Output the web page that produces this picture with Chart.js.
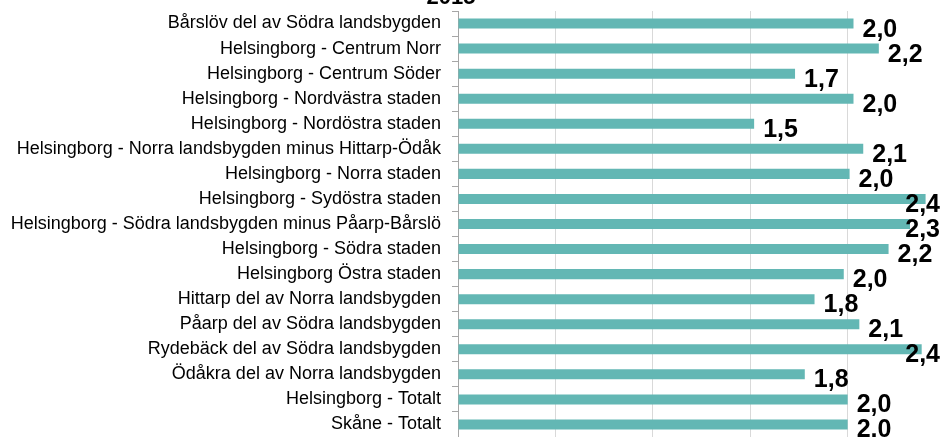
<!DOCTYPE html>
<html>
<head>
<meta charset="utf-8">
<script src="https://cdn.jsdelivr.net/npm/chart.js@4/dist/chart.umd.min.js"></script>
<style>
  body { margin: 0; background: #fff; overflow: hidden; }
</style>
</head>
<body>
<canvas id="chart" width="940" height="437"></canvas>
<script>
const areas = [
    'Bårslöv del av Södra landsbygden',
    'Helsingborg - Centrum Norr',
    'Helsingborg - Centrum Söder',
    'Helsingborg - Nordvästra staden',
    'Helsingborg - Nordöstra staden',
    'Helsingborg - Norra landsbygden minus Hittarp-Ödåk',
    'Helsingborg - Norra staden',
    'Helsingborg - Sydöstra staden',
    'Helsingborg - Södra landsbygden minus Påarp-Bårslö',
    'Helsingborg - Södra staden',
    'Helsingborg Östra staden',
    'Hittarp del av Norra landsbygden',
    'Påarp del av Södra landsbygden',
    'Rydebäck del av Södra landsbygden',
    'Ödåkra del av Norra landsbygden',
    'Helsingborg - Totalt',
    'Skåne - Totalt'
];
const values = [2.03, 2.16, 1.73, 2.03, 1.52, 2.08, 2.01, 2.4, 2.32, 2.21, 1.98, 1.83, 2.06, 2.38, 1.78, 2.0, 2.0];
const chartTitle = '2015';

const barColor = '#63b7b4';

// data labels to the lower right of every bar end, kept inside the canvas
const valueLabels = {
    id: 'valueLabels',
    afterDatasetsDraw(chart) {
        const ctx = chart.ctx;
        const meta = chart.getDatasetMeta(0);
        ctx.save();
        ctx.font = 'bold 25px "Liberation Sans", Arial, sans-serif';
        ctx.fillStyle = '#000';
        ctx.textBaseline = 'alphabetic';
        meta.data.forEach((bar, i) => {
            const txt = values[i].toFixed(1).replace('.', ',');
            const w = ctx.measureText(txt).width;
            let x = bar.x + 9;
            if (x + w > chart.width) x = chart.width - w;
            ctx.fillText(txt, x, bar.y + 13);
        });
        ctx.restore();
    }
};

// title sits mostly above the visible area
const topTitle = {
    id: 'topTitle',
    afterDraw(chart) {
        const ctx = chart.ctx;
        ctx.save();
        ctx.font = 'bold 22px "Liberation Sans", Arial, sans-serif';
        ctx.fillStyle = '#000';
        ctx.textAlign = 'center';
        ctx.textBaseline = 'alphabetic';
        ctx.fillText(chartTitle, 451, 4);
        ctx.restore();
    }
};

new Chart(document.getElementById('chart'), {
    type: 'bar',
    data: {
        labels: areas,
        datasets: [{
            data: values,
            backgroundColor: barColor,
            borderWidth: 0,
            categoryPercentage: 1,
            barPercentage: 0.4
        }]
    },
    options: {
        indexAxis: 'y',
        responsive: false,
        animation: false,
        layout: { padding: { top: 11, right: 0, bottom: 0, left: 0 } },
        plugins: {
            legend: { display: false },
            tooltip: { enabled: false },
            title: { display: false }
        },
        scales: {
            x: {
                min: 0,
                max: 2.474,
                afterFit(scale) {
                    scale.height = 0;
                    scale.paddingLeft = 0;
                    scale.paddingRight = 0;
                },
                ticks: { display: false, stepSize: 0.5 },
                grid: { color: '#d9d9d9', drawTicks: false },
                border: { display: false }
            },
            y: {
                afterFit(scale) {
                    scale.width = 458;
                    scale.paddingTop = 0;
                    scale.paddingBottom = 0;
                },
                ticks: {
                    color: '#000',
                    padding: 11,
                    font: { family: '"Liberation Sans", Arial, sans-serif', size: 18 }
                },
                grid: {
                    offset: true,
                    drawOnChartArea: false,
                    tickLength: 6,
                    color: '#a6a6a6'
                },
                border: { display: true, color: '#a6a6a6' }
            }
        }
    },
    plugins: [valueLabels, topTitle]
});
</script>
</body>
</html>
